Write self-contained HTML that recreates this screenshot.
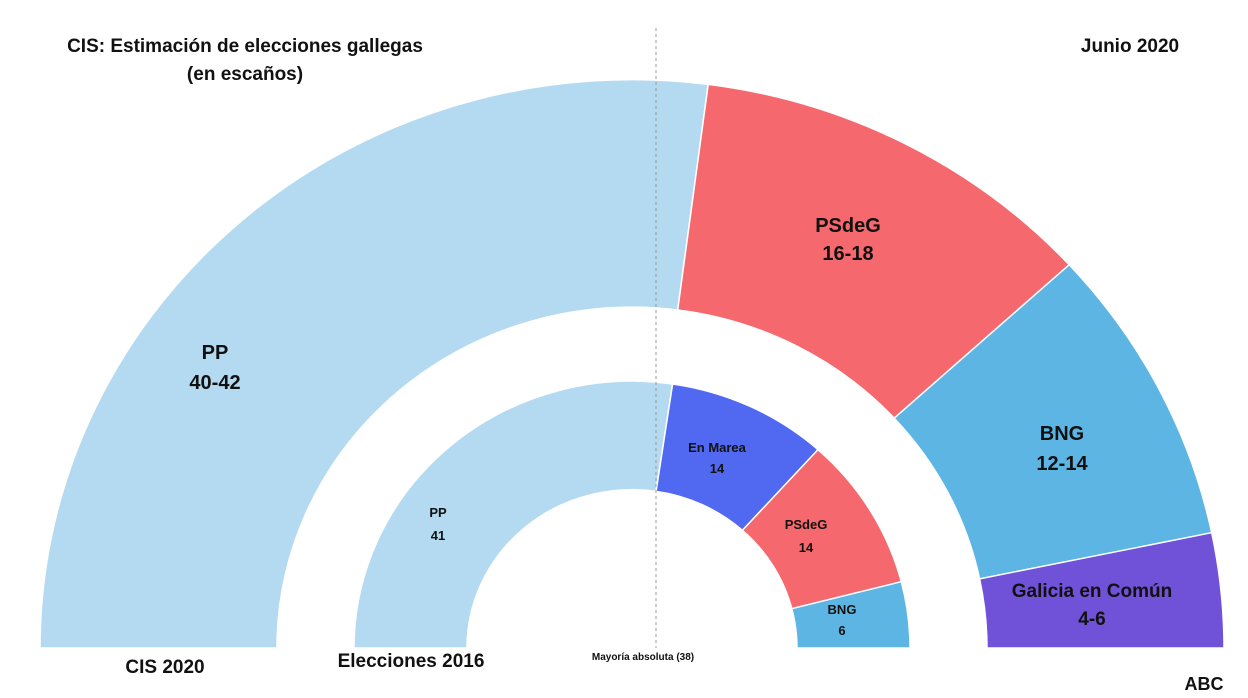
<!DOCTYPE html>
<html><head><meta charset="utf-8"><style>
html,body{margin:0;padding:0;background:#fff;}
svg{display:block;font-family:"Liberation Sans",sans-serif;font-weight:bold;}
</style></head><body>
<svg width="1248" height="698" viewBox="0 0 1248 698">
<g transform="translate(632,648) scale(1,0.96)" stroke="#fff" stroke-width="1.5">
<path d="M-592,0 A592,592 0 0 1 76.2,-587.1 L45.7,-352.1 A355,355 0 0 0 -355,0 Z" fill="#b4daf1"/>
<path d="M76.2,-587.1 A592,592 0 0 1 437.2,-399.2 L262.2,-239.4 A355,355 0 0 0 45.7,-352.1 Z" fill="#f4686e"/>
<path d="M437.2,-399.2 A592,592 0 0 1 579.7,-120.1 L347.6,-72.0 A355,355 0 0 0 262.2,-239.4 Z" fill="#5db5e4"/>
<path d="M579.7,-120.1 A592,592 0 0 1 592,0 L355,0 A355,355 0 0 0 347.6,-72.0 Z" fill="#6f52d8"/>
<path d="M-278,0 A278,278 0 0 1 40.6,-275.0 L24.1,-163.2 A165,165 0 0 0 -165,0 Z" fill="#b4daf1"/>
<path d="M40.6,-275.0 A278,278 0 0 1 186.0,-206.6 L110.4,-122.6 A165,165 0 0 0 24.1,-163.2 Z" fill="#5069f0"/>
<path d="M186.0,-206.6 A278,278 0 0 1 269.3,-69.1 L159.8,-41.0 A165,165 0 0 0 110.4,-122.6 Z" fill="#f4686e"/>
<path d="M269.3,-69.1 A278,278 0 0 1 278,0 L165,0 A165,165 0 0 0 159.8,-41.0 Z" fill="#5db5e4"/>
</g>
<line x1="656" y1="28" x2="656" y2="648" stroke="#999" stroke-width="1" stroke-dasharray="3,3"/>
<g text-anchor="middle" fill="#111">
<text x="245" y="52" font-size="19">CIS: Estimación de elecciones gallegas</text>
<text x="245" y="80" font-size="19">(en escaños)</text>
<text x="1130" y="52" font-size="19">Junio 2020</text>
<text x="215" y="359" font-size="20">PP</text>
<text x="215" y="389" font-size="20">40-42</text>
<text x="848" y="232" font-size="20">PSdeG</text>
<text x="848" y="260" font-size="20">16-18</text>
<text x="1062" y="440" font-size="20">BNG</text>
<text x="1062" y="470" font-size="20">12-14</text>
<text x="1092" y="597" font-size="19">Galicia en Común</text>
<text x="1092" y="625" font-size="19">4-6</text>
<text x="438" y="517" font-size="13">PP</text>
<text x="438" y="540" font-size="13">41</text>
<text x="717" y="452" font-size="13">En Marea</text>
<text x="717" y="473" font-size="13">14</text>
<text x="806" y="529" font-size="13">PSdeG</text>
<text x="806" y="552" font-size="13">14</text>
<text x="842" y="614" font-size="13">BNG</text>
<text x="842" y="635" font-size="13">6</text>
<text x="165" y="673" font-size="19">CIS 2020</text>
<text x="411" y="667" font-size="19">Elecciones 2016</text>
<text x="643" y="660" font-size="10">Mayoría absoluta (38)</text>
<text x="1204" y="690" font-size="18">ABC</text>
</g>
</svg>
</body></html>
